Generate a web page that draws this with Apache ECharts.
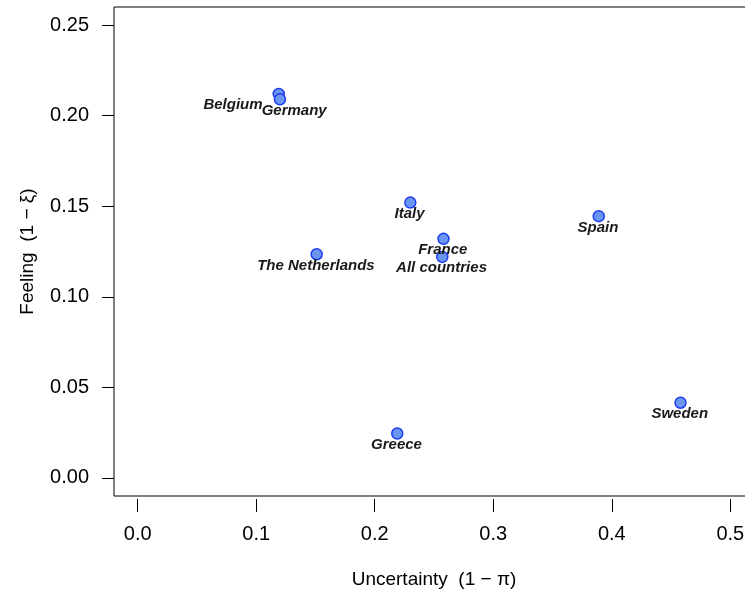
<!DOCTYPE html>
<html>
<head>
<meta charset="utf-8">
<script src="https://cdn.jsdelivr.net/npm/echarts@6/dist/echarts.min.js"></script>
<style>
  html, body { margin: 0; padding: 0; background: #fff; }
  #chart { width: 745px; height: 596px; }
</style>
</head>
<body>
<div id="chart"></div>
<script>
// ---- data ----
var countries = ['Belgium', 'Germany', 'Italy', 'France', 'All countries', 'The Netherlands', 'Spain', 'Sweden', 'Greece'];
var uncertainty = [0.119, 0.120, 0.230, 0.258, 0.257, 0.151, 0.389, 0.458, 0.219];
var feeling = [0.212, 0.209, 0.152, 0.132, 0.122, 0.1235, 0.1445, 0.0415, 0.0245];
var xTicks = [0, 0.1, 0.2, 0.3, 0.4, 0.5];
var yTicks = [0, 0.05, 0.10, 0.15, 0.20, 0.25];

// label placement tweaks (style only), pixel offset of label centre from point centre
var labelOffsets = {
  'Belgium': [-45, 12],
  'Germany': [15, 12]
};

var chart = echarts.init(document.getElementById('chart'));
var FONT = '"Liberation Sans", Arial, sans-serif';
var SYM = 11;

var points = countries.map(function (c, i) {
  var off = labelOffsets[c] || [0, 12];
  return {
    name: c,
    value: [uncertainty[i], feeling[i]],
    label: { position: [SYM / 2 + off[0], SYM / 2 + off[1]], align: 'center', verticalAlign: 'middle' }
  };
});

chart.setOption({
  animation: false,
  backgroundColor: '#ffffff',
  grid: {
    left: 114, top: 7, width: 640, height: 489,
    outerBoundsMode: 'none',
    containLabel: false,
    show: true, borderColor: '#000', borderWidth: 1, backgroundColor: 'transparent'
  },
  xAxis: {
    type: 'value', min: -0.02, max: 0.52,
    offset: 3,
    axisLine: { show: false, onZero: false },
    axisTick: { show: true, length: 13, inside: false, lineStyle: { color: '#000', width: 1 }, customValues: xTicks },
    axisLabel: { customValues: xTicks, formatter: function (v) { return v.toFixed(1); },
      color: '#000', fontFamily: FONT, fontSize: 20, margin: 25 },
    splitLine: { show: false },
    name: 'Uncertainty  (1 \u2212 \u03c0)',
    nameLocation: 'middle', nameGap: 71,
    nameTextStyle: { color: '#000', fontFamily: FONT, fontSize: 19 }
  },
  yAxis: {
    type: 'value', min: -0.01, max: 0.26,
    axisLine: { show: false, onZero: false },
    axisTick: { show: true, length: 12, inside: false, lineStyle: { color: '#000', width: 1 }, customValues: yTicks },
    axisLabel: { customValues: yTicks, formatter: function (v) { return v.toFixed(2); },
      color: '#000', fontFamily: FONT, fontSize: 20, margin: 25 },
    splitLine: { show: false },
    name: 'Feeling  (1 \u2212 \u03be)',
    nameLocation: 'middle', nameGap: 77, nameRotate: 90,
    nameTextStyle: { color: '#000', fontFamily: FONT, fontSize: 19 }
  },
  series: [{
    type: 'scatter',
    data: points,
    symbol: 'circle',
    symbolSize: SYM,
    itemStyle: { color: '#6A96F2', borderColor: '#1E3CF0', borderWidth: 1.5, opacity: 1 },
    label: {
      show: true,
      formatter: '{b}',
      color: '#1a1a1a',
      fontFamily: FONT,
      fontSize: 15,
      fontWeight: 'bold',
      fontStyle: 'italic'
    },
    emphasis: { disabled: true },
    z: 3
  }]
});
</script>
</body>
</html>
